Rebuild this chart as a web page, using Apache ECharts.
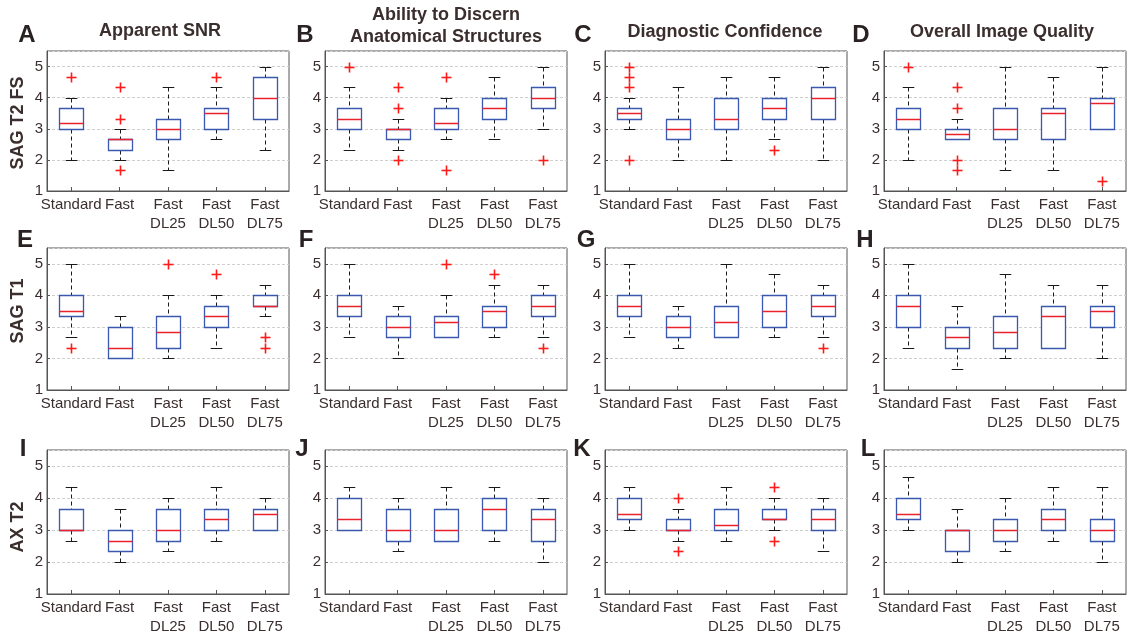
<!DOCTYPE html>
<html><head><meta charset="utf-8">
<script src="https://cdn.jsdelivr.net/npm/echarts@6/dist/echarts.min.js"></script>
<style>html,body{margin:0;padding:0;background:#fff}#c{width:1131px;height:636px}</style>
</head><body><div id="c"></div>
<script>
// ---- data ----
const categories = ['Standard', 'Fast', 'Fast\nDL25', 'Fast\nDL50', 'Fast\nDL75'];
const yTicks = [1, 2, 3, 4, 5];
const columnTitles = ['Apparent SNR', 'Ability to Discern\nAnatomical Structures', 'Diagnostic Confidence', 'Overall Image Quality'];
const rowLabels = ['SAG T2 FS', 'SAG T1', 'AX T2'];
const panelLetters = ['A','B','C','D','E','F','G','H','I','J','K','L'];

// box stats per category: [min whisker, Q1, median, Q3, max whisker]
const boxA = [[2,3,3.17,3.67,4],[2,2.33,2.67,2.67,3],[1.67,2.67,3,3.33,4.33],[2.67,3,3.5,3.67,4.33],[2.33,3.33,4,4.67,5]];
const boxB = [[2.33,3,3.33,3.67,4.33],[2.33,2.67,3,3,3.33],[2.67,3,3.17,3.67,4],[2.67,3.33,3.67,4,4.67],[3,3.67,4,4.33,5]];
const boxC = [[3,3.33,3.5,3.67,4],[2,2.67,3,3.33,4.33],[2,3,3.33,4,4.67],[2.67,3.33,3.67,4,4.67],[2,3.33,4,4.33,5]];
const boxD = [[2,3,3.33,3.67,4.33],[2.67,2.67,2.83,3,3.33],[1.67,2.67,3,3.67,5],[1.67,2.67,3.5,3.67,4.67],[3,3,3.83,4,5]];
const boxE = [[2.67,3.33,3.5,4,5],[2,2,2.33,3,3.33],[2,2.33,2.83,3.33,4],[2.33,3,3.33,3.67,4],[3.33,3.67,3.67,4,4.33]];
const boxF = [[2.67,3.33,3.67,4,5],[2,2.67,3,3.33,3.67],[2.67,2.67,3.17,3.33,4],[2.67,3,3.5,3.67,4.33],[2.67,3.33,3.67,4,4.33]];
const boxG = [[2.67,3.33,3.67,4,5],[2.33,2.67,3,3.33,3.67],[2.67,2.67,3.17,3.67,5],[2.67,3,3.5,4,4.67],[2.67,3.33,3.67,4,4.33]];
const boxH = [[2.33,3,3.67,4,5],[1.67,2.33,2.67,3,3.67],[2,2.33,2.83,3.33,4.67],[2.33,2.33,3.33,3.67,4.33],[2,3,3.5,3.67,4.33]];
const boxI = [[2.67,3,3,3.67,4.33],[2,2.33,2.67,3,3.67],[2.33,2.67,3,3.67,4],[2.67,3,3.33,3.67,4.33],[3,3,3.5,3.67,4]];
const boxJ = [[3,3,3.33,4,4.33],[2.33,2.67,3,3.67,4],[2.67,2.67,3,3.67,4.33],[2.67,3,3.67,4,4.33],[2,2.67,3.33,3.67,4]];
const boxK = [[3,3.33,3.5,4,4.33],[2.67,3,3,3.33,3.67],[2.67,3,3.17,3.67,4.33],[3,3.33,3.33,3.67,4],[2.33,3,3.33,3.67,4]];
const boxL = [[3,3.33,3.5,4,4.67],[2,2.33,3,3,3.67],[2.33,2.67,3,3.33,4],[2.67,3,3.33,3.67,4.33],[2,2.67,3,3.33,4.33]];

// outliers: [category index, value]
const outA = [[0,4.67],[1,4.33],[1,3.33],[1,1.67],[3,4.67]];
const outB = [[0,5],[1,4.33],[1,3.67],[1,2],[2,4.67],[2,1.67],[4,2]];
const outC = [[0,5],[0,4.67],[0,4.33],[0,2],[3,2.33]];
const outD = [[0,5],[1,4.33],[1,3.67],[1,2],[1,1.67],[4,1.33]];
const outE = [[0,2.33],[2,5],[3,4.67],[4,2.67],[4,2.33]];
const outF = [[2,5],[3,4.67],[4,2.33]];
const outG = [[4,2.33]];
const outH = [];
const outI = [];
const outJ = [];
const outK = [[1,4],[1,2.33],[3,4.33],[3,2.67]];
const outL = [];

const boxes = [boxA,boxB,boxC,boxD,boxE,boxF,boxG,boxH,boxI,boxJ,boxK,boxL];
const outs = [outA,outB,outC,outD,outE,outF,outG,outH,outI,outJ,outK,outL];

// ---- layout / style ----
const colLeft = [47, 325, 605, 884];
const gridW = 242;
const rowTop = [51, 248, 450];
const rowH = [140, 142, 144];
const textColor = '#3b2e2e';
const frameColor = '#555';
const boxColor = '#3a58b0';
const medColor = '#e8232b';

const crisp = v => Math.round(v) + 0.5;

function renderBox(params, api) {
  const i = api.value(0);
  const mn = api.value(1), q1 = api.value(2), md = api.value(3), q3 = api.value(4), mx = api.value(5);
  const band = api.size([1, 0])[0];
  const bw = band * 0.5, cw = band * 0.24;
  const x = crisp(api.coord([i, md])[0]);
  const yMin = crisp(api.coord([i, mn])[1]);
  const yQ1 = crisp(api.coord([i, q1])[1]);
  const yMd = crisp(api.coord([i, md])[1]);
  const yQ3 = crisp(api.coord([i, q3])[1]);
  const yMx = crisp(api.coord([i, mx])[1]);
  const wStyle = { stroke: '#1a1a1a', lineWidth: 1, lineDash: [4, 3], fill: null };
  const cStyle = { stroke: '#1a1a1a', lineWidth: 1, fill: null };
  const ch = [];
  if (yMx < yQ3) ch.push({ type: 'line', shape: { x1: x, y1: yMx, x2: x, y2: yQ3 }, style: wStyle });
  if (yMin > yQ1) ch.push({ type: 'line', shape: { x1: x, y1: yQ1, x2: x, y2: yMin }, style: wStyle });
  ch.push({ type: 'line', shape: { x1: x - cw / 2, y1: yMx, x2: x + cw / 2, y2: yMx }, style: cStyle });
  ch.push({ type: 'line', shape: { x1: x - cw / 2, y1: yMin, x2: x + cw / 2, y2: yMin }, style: cStyle });
  const bx = Math.round(x - bw / 2) + 0.5;
  ch.push({ type: 'rect', shape: { x: bx, y: yQ3, width: Math.round(bw), height: yQ1 - yQ3 },
            style: { stroke: boxColor, lineWidth: 1.3, fill: '#fff' } });
  ch.push({ type: 'line', shape: { x1: bx, y1: yMd, x2: bx + Math.round(bw), y2: yMd },
            style: { stroke: medColor, lineWidth: 1.5 } });
  return { type: 'group', children: ch };
}

function renderOut(params, api) {
  const p = api.coord([api.value(0), api.value(1)]);
  const x = crisp(p[0]), y = crisp(p[1]), r = 5;
  const st = { stroke: '#ff1a1a', lineWidth: 1.6 };
  return { type: 'group', children: [
    { type: 'line', shape: { x1: x - r, y1: y, x2: x + r, y2: y }, style: st },
    { type: 'line', shape: { x1: x, y1: y - r, x2: x, y2: y + r }, style: st }
  ]};
}

const grids = [], xAxes = [], yAxes = [], series = [];
for (let p = 0; p < 12; p++) {
  const r = Math.floor(p / 4), c = p % 4;
  grids.push({ left: colLeft[c], top: rowTop[r], width: gridW, height: rowH[r],
               show: true, borderColor: frameColor, borderWidth: 1, backgroundColor: 'transparent' });
  xAxes.push({ type: 'category', gridIndex: p, data: categories, boundaryGap: true,
    axisLine: { show: true, lineStyle: { color: frameColor, width: 1 } },
    axisTick: { show: true, inside: true, length: 4, alignWithLabel: true, lineStyle: { color: frameColor } },
    axisLabel: { interval: 0, fontSize: 15, color: textColor, lineHeight: 19, margin: 4, fontFamily: 'Liberation Sans, Arial, sans-serif' },
    splitLine: { show: false } });
  yAxes.push({ type: 'value', gridIndex: p, min: 1, max: 5.5, interval: 1,
    axisLine: { show: true, lineStyle: { color: frameColor, width: 1 } },
    axisTick: { show: true, inside: true, length: 3, lineStyle: { color: frameColor } },
    axisLabel: { fontSize: 15, color: textColor, margin: 4, showMaxLabel: false,
                 fontFamily: 'Liberation Sans, Arial, sans-serif',
                 formatter: v => (yTicks.indexOf(v) >= 0 ? String(v) : '') },
    splitLine: { show: true, lineStyle: { color: '#cfcfcf', type: [3, 2], width: 1 } } });
  series.push({ type: 'custom', xAxisIndex: p, yAxisIndex: p, renderItem: renderBox,
    encode: { x: 0, y: [1, 2, 3, 4, 5] },
    data: boxes[p].map((b, i) => [i, ...b]), silent: true });
  series.push({ type: 'custom', xAxisIndex: p, yAxisIndex: p, renderItem: renderOut,
    encode: { x: 0, y: 1 }, data: outs[p], silent: true });
}

const font = 'Liberation Sans, Arial, sans-serif';
const graphics = [];
const titlePos = [[160, 31], [446, 26], [725, 32], [1002, 32]];
columnTitles.forEach((t, i) => {
  graphics.push({ type: 'text', x: titlePos[i][0], y: titlePos[i][1],
    style: { text: t, fill: textColor, font: 'bold 18px ' + font, align: 'center', verticalAlign: 'middle', lineHeight: 22 } });
});
const letterPos = [[27,35],[305,35],[583,35],[861,35],[25,240],[306,240],[586,240],[865,240],[23,449],[302,449],[582,449],[868,449]];
panelLetters.forEach((l, i) => {
  graphics.push({ type: 'text', x: letterPos[i][0], y: letterPos[i][1],
    style: { text: l, fill: '#2a2222', font: 'bold 24px ' + font, align: 'center', verticalAlign: 'middle' } });
});
const rowPos = [[18, 123], [18, 311], [18, 527]];
rowLabels.forEach((t, i) => {
  graphics.push({ type: 'text', x: rowPos[i][0], y: rowPos[i][1], rotation: Math.PI / 2,
    style: { text: t, fill: textColor, font: 'bold 18px ' + font, align: 'center', verticalAlign: 'middle' } });
});

const chart = echarts.init(document.getElementById('c'), null, { renderer: 'canvas' });
chart.setOption({
  animation: false,
  backgroundColor: '#fff',
  grid: grids, xAxis: xAxes, yAxis: yAxes, series: series,
  graphic: graphics
});
</script></body></html>
